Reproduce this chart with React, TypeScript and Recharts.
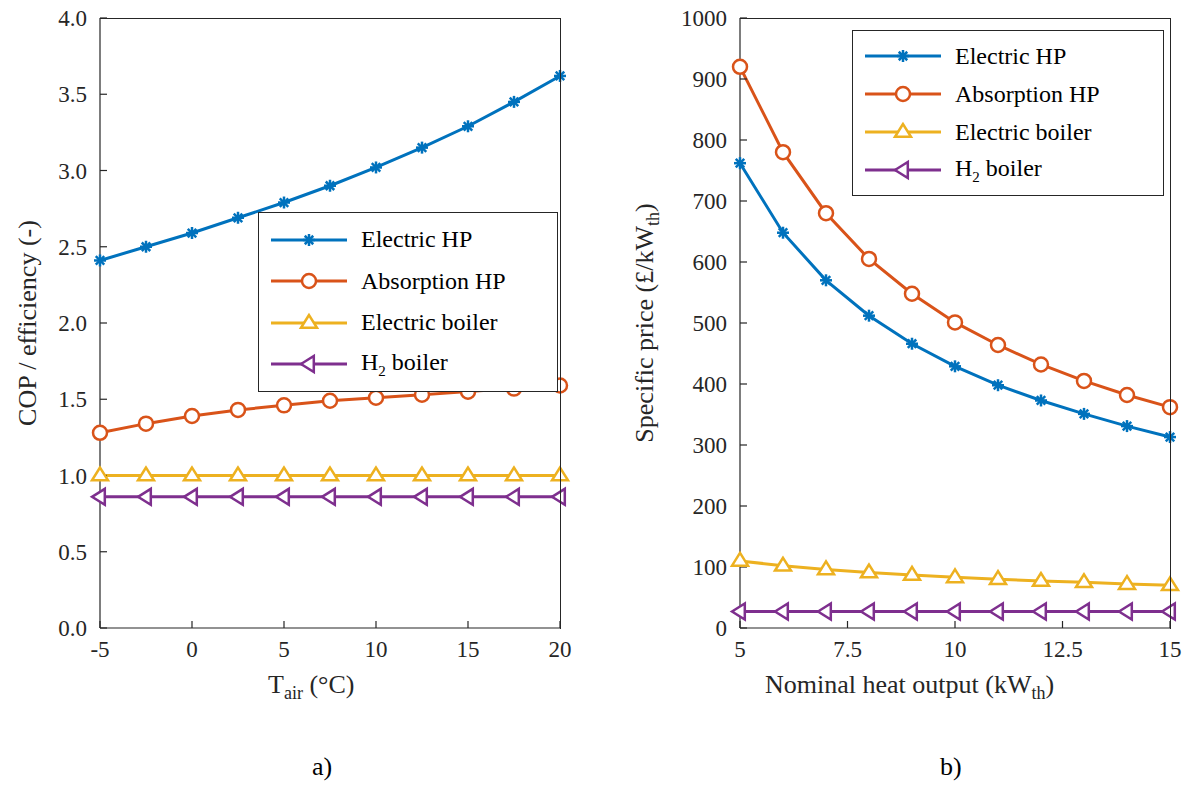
import React from 'react';
import { LineChart, Line, XAxis, YAxis } from 'recharts';

const tairs = [-5, -2.5, 0, 2.5, 5, 7.5, 10, 12.5, 15, 17.5, 20];
const copElecHP = [2.41, 2.5, 2.59, 2.69, 2.79, 2.9, 3.02, 3.15, 3.29, 3.45, 3.62];
const copAbsHP = [1.28, 1.34, 1.39, 1.43, 1.46, 1.49, 1.51, 1.53, 1.55, 1.57, 1.59];
const copElecBoiler = [1, 1, 1, 1, 1, 1, 1, 1, 1, 1, 1];
const copH2Boiler = [0.86, 0.86, 0.86, 0.86, 0.86, 0.86, 0.86, 0.86, 0.86, 0.86, 0.86];

const outputs = [5, 6, 7, 8, 9, 10, 11, 12, 13, 14, 15];
const priceElecHP = [762, 648, 570, 512, 466, 429, 398, 373, 351, 331, 313];
const priceAbsHP = [920, 780, 680, 605, 548, 501, 464, 432, 405, 382, 362];
const priceElecBoiler = [110, 102, 96, 91, 87, 83, 80, 77, 75, 72, 70];
const priceH2Boiler = [27, 27, 27, 27, 27, 27, 27, 27, 27, 27, 27];

const leftXTicks = [-5, 0, 5, 10, 15, 20];
const leftYTicks = [0, 0.5, 1, 1.5, 2, 2.5, 3, 3.5, 4];
const rightXTicks = [5, 7.5, 10, 12.5, 15];
const rightYTicks = [0, 100, 200, 300, 400, 500, 600, 700, 800, 900, 1000];

const C = ['#0072BD', '#D95319', '#EDB120', '#7E2F8E'];
const FONT = '"Liberation Serif", "Times New Roman", serif';

const leftData = tairs.map((x, i) => ({ x, a: copElecHP[i], b: copAbsHP[i], c: copElecBoiler[i], d: copH2Boiler[i] }));
const rightData = outputs.map((x, i) => ({ x, a: priceElecHP[i], b: priceAbsHP[i], c: priceElecBoiler[i], d: priceH2Boiler[i] }));

const Marker = ({ kind, cx, cy, color }: any) => {
  if (cx == null || cy == null) return null;
  const sw = 2.5;
  if (kind === 0) {
    const r = 6;
    const lines = [0, 45, 90, 135].map((a) => {
      const rad = (a * Math.PI) / 180;
      return <line key={a} x1={cx - r * Math.cos(rad)} y1={cy - r * Math.sin(rad)} x2={cx + r * Math.cos(rad)} y2={cy + r * Math.sin(rad)} stroke={color} strokeWidth={2.5} />;
    });
    return <g>{lines}</g>;
  }
  if (kind === 1) return <circle cx={cx} cy={cy} r={7} fill="white" stroke={color} strokeWidth={sw} />;
  if (kind === 2) {
    const r = 8;
    return <polygon points={`${cx},${cy - r} ${cx - r},${cy + r * 0.6} ${cx + r},${cy + r * 0.6}`} fill="white" stroke={color} strokeWidth={sw} />;
  }
  const r = 8;
  return <polygon points={`${cx - r},${cy} ${cx + r * 0.6},${cy - r} ${cx + r * 0.6},${cy + r}`} fill="white" stroke={color} strokeWidth={sw} />;
};

const series = ['a', 'b', 'c', 'd'];
const names = ['Electric HP', 'Absorption HP', 'Electric boiler', 'H2 boiler'];

const tickStyle = { fill: '#262626', fontSize: 23, fontFamily: FONT, style: { fontFamily: FONT } };

const Chart = ({ data, xTicks, yTicks, xDomain, yDomain, fmt, left, width, mr }: any) => (
  <div style={{ position: 'absolute', left, top: 0, fontFamily: FONT }}>
    <LineChart width={width} height={700} data={data} margin={{ top: 18, right: mr, left: 40, bottom: 32 }} style={{ fontFamily: FONT }}>
      <XAxis dataKey="x" type="number" domain={xDomain} ticks={xTicks} height={40} tick={tickStyle} tickSize={-7} stroke="#262626" strokeWidth={1.2} tickMargin={20} />
      <YAxis type="number" domain={yDomain} ticks={yTicks} width={60} tick={tickStyle} tickFormatter={fmt} tickSize={-7} tickMargin={20} stroke="#262626" strokeWidth={1.2} interval={0} />
      {series.map((k, i) => (
        <Line key={k} dataKey={k} stroke={C[i]} strokeWidth={3} isAnimationActive={false}
          dot={(p: any) => <Marker key={p.index} kind={i} cx={p.cx} cy={p.cy} color={C[i]} />} />
      ))}
    </LineChart>
  </div>
);

const Box = ({ left, top, width, height }: any) => (
  <div style={{ position: 'absolute', left, top, width, height, borderTop: '1.2px solid #262626', borderRight: '1.2px solid #262626', boxSizing: 'border-box', pointerEvents: 'none' }} />
);

const Legend = ({ left, top, width, height }: any) => (
  <div style={{ position: 'absolute', left, top, width, height, border: '1.2px solid #262626', background: 'white', fontFamily: FONT, fontSize: 24, color: '#000', boxSizing: 'border-box', paddingTop: 6 }}>
    {names.map((n, i) => (
      <div key={n} style={{ display: 'flex', alignItems: 'center', height: (height - 14) / 4 }}>
        <svg width={80} height={24} style={{ marginLeft: 10, marginRight: 12 }}>
          <line x1={2} y1={12} x2={78} y2={12} stroke={C[i]} strokeWidth={3} />
          <Marker kind={i} cx={40} cy={12} color={C[i]} />
        </svg>
        <span style={{ fontFamily: FONT }}>{i === 3 ? <>H<sub style={{ fontSize: 15 }}>2</sub> boiler</> : n}</span>
      </div>
    ))}
  </div>
);

const txt = { position: 'absolute' as const, fontFamily: FONT, fontSize: 26, color: '#262626', whiteSpace: 'nowrap' as const };

export default function App() {
  return (
    <div style={{ position: 'absolute', left: 0, top: 0, width: 1189, height: 789, background: 'white', overflow: 'hidden', fontFamily: FONT }}>
      <Chart data={leftData} xTicks={leftXTicks} yTicks={leftYTicks} xDomain={[-5, 20]} yDomain={[0, 4]} fmt={(v: number) => v.toFixed(1)} left={0} width={590} mr={30} />
      <Chart data={rightData} xTicks={rightXTicks} yTicks={rightYTicks} xDomain={[5, 15]} yDomain={[0, 1000]} fmt={(v: number) => String(v)} left={640} width={550} mr={20} />
      <Box left={100} top={18} width={461} height={611} />
      <Box left={740} top={18} width={431} height={611} />
      <Legend left={258} top={212} width={300} height={180} />
      <Legend left={852} top={30} width={312} height={166} />
      <div style={{ ...txt, left: 268, top: 670 }}>T<sub style={{ fontSize: 18 }}>air</sub> (°C)</div>
      <div style={{ ...txt, left: 312, top: 752, color: '#000' }}>a)</div>
      <div style={{ ...txt, left: 765, top: 670 }}>Nominal heat output (kW<sub style={{ fontSize: 18 }}>th</sub>)</div>
      <div style={{ ...txt, left: 940, top: 752, color: '#000' }}>b)</div>
      <div style={{ ...txt, left: 28, top: 323, transform: 'translate(-50%,-50%) rotate(-90deg)' }}>COP / efficiency (-)</div>
      <div style={{ ...txt, left: 647, top: 323, transform: 'translate(-50%,-50%) rotate(-90deg)' }}>Specific price (£/kW<sub style={{ fontSize: 18 }}>th</sub>)</div>
    </div>
  );
}
